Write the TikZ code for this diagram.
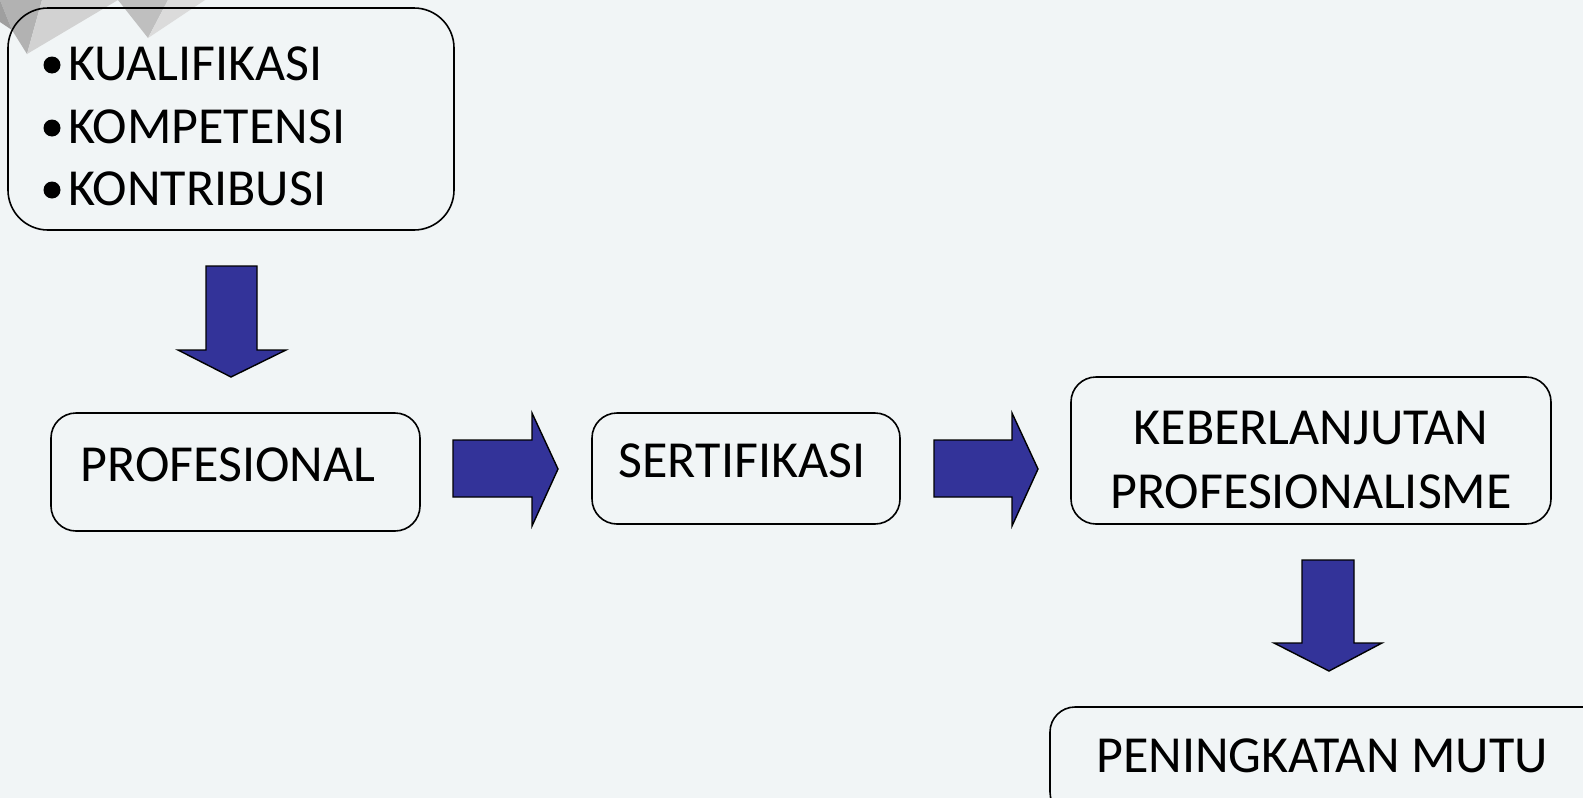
\documentclass[tikz,border=0pt]{standalone}
\usepackage{fontspec}
\setmainfont{Carlito}
\definecolor{bg}{RGB}{241,245,246}
\definecolor{arrowblue}{RGB}{51,51,153}
\begin{document}
\begin{tikzpicture}[x=1pt,y=-1pt,
  box/.style={draw=black,line width=1.6pt,rounded corners=25pt,fill=none},
  blockarrow/.style={draw=black,line width=1.4pt,fill=arrowblue,line join=miter},
  bullet/.style={circle,fill=black,inner sep=0pt,minimum size=17pt},
  txt/.style={inner sep=0pt,anchor=base,font=\fontsize{52}{63}\selectfont}]
\useasboundingbox (0,0) rectangle (1583,798);
\fill[bg] (0,0) rectangle (1583,798);
% decoration top-left
\fill[gray!60] (0,0) -- (42,0) -- (27,54) -- (12,30) -- cycle;
\fill[gray!35] (42,0) -- (118,0) -- (27,54) -- cycle;
\fill[gray!50] (118,0) -- (168,0) -- (148,38) -- cycle;
\fill[gray!28] (168,0) -- (205,0) -- (148,38) -- cycle;
\fill[gray!75] (0,0) -- (12,30) -- (0,22) -- cycle;
% boxes
\node[box,rounded corners=40pt,minimum width=446pt,minimum height=222pt,inner sep=0pt] (top) at (231,119) {};
\node[box,minimum width=369pt,minimum height=118pt,inner sep=0pt] (prof) at (235.5,472) {};
\node[box,minimum width=308pt,minimum height=111pt,inner sep=0pt] (sert) at (746,468.5) {};
\node[box,minimum width=480pt,minimum height=147pt,inner sep=0pt] (keb) at (1311,450.5) {};
\node[box,minimum width=560pt,minimum height=110pt,inner sep=0pt] (mutu) at (1330,762) {};
% texts
\node[bullet] (b1) at (52,65) {};
\node[bullet] (b2) at (52,128) {};
\node[bullet] (b3) at (52,190) {};
\node[txt,anchor=base west] (t1) at (68,80) {KUALIFIKASI};
\node[txt,anchor=base west] (t2) at (68,143) {KOMPETENSI};
\node[txt,anchor=base west] (t3) at (68,205) {KONTRIBUSI};
\node[txt] (tprof) at (228,481) {PROFESIONAL};
\node[txt] (tsert) at (742,477) {SERTIFIKASI};
\node[txt] (tkeb1) at (1311,444) {KEBERLANJUTAN};
\node[txt] (tkeb2) at (1311,508) {PROFESIONALISME};
\node[txt] (tmutu) at (1322,772) {PENINGKATAN MUTU};
% block arrows
\draw[blockarrow] (206,266) -- (257,266) -- (257,350) -- (286,350) -- (231,377) -- (178,350) -- (206,350) -- cycle;
\draw[blockarrow] (453,440) -- (532,440) -- (532,413) -- (558,469) -- (532,526) -- (532,497) -- (453,497) -- cycle;
\draw[blockarrow] (934,440) -- (1012,440) -- (1012,413) -- (1038,469) -- (1012,526) -- (1012,497) -- (934,497) -- cycle;
\draw[blockarrow] (1302,560) -- (1354,560) -- (1354,643) -- (1382,643) -- (1329,671) -- (1274,643) -- (1302,643) -- cycle;
\end{tikzpicture}
\end{document}
